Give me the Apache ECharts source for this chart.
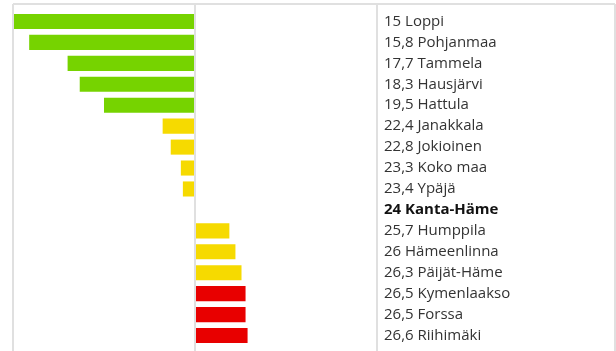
<!DOCTYPE html>
<html>
<head>
<meta charset="utf-8">
<style>
  html, body { margin: 0; padding: 0; background: #fff; }
  #chart { width: 616px; height: 351px; }
</style>
<script src="https://cdn.jsdelivr.net/npm/echarts@6/dist/echarts.min.js"></script>
</head>
<body>
<div id="chart"></div>
<script>
// Areas, ordered from lowest to highest value
const areas = ['Loppi', 'Pohjanmaa', 'Tammela', 'Hausjärvi', 'Hattula', 'Janakkala',
  'Jokioinen', 'Koko maa', 'Ypäjä', 'Kanta-Häme', 'Humppila', 'Hämeenlinna',
  'Päijät-Häme', 'Kymenlaakso', 'Forssa', 'Riihimäki'];
const values = [15, 15.8, 17.7, 18.3, 19.5, 22.4, 22.8, 23.3, 23.4, 24, 25.7, 26, 26.3, 26.5, 26.5, 26.6];
// Colour class of each row
const levels = ['low', 'low', 'low', 'low', 'low', 'mid', 'mid', 'mid', 'mid', 'mid', 'mid', 'mid', 'mid', 'high', 'high', 'high'];
// Reference area: bars grow out from its value
const referenceArea = 'Kanta-Häme';
const referenceValue = 24;
const axisMin = 15;
const axisMax = 33;

const levelColors = { low: '#76d300', mid: '#f6da00', high: '#e80000' };
const fmt = v => String(v).replace('.', ',');
const lineColor = '#e0e0e0';

const chart = echarts.init(document.getElementById('chart'));
chart.setOption({
  animation: false,
  grid: { left: 13, right: 239, top: 11, bottom: 5 },
  xAxis: {
    type: 'value', min: axisMin, max: axisMax,
    axisLine: { show: false }, axisTick: { show: false },
    axisLabel: { show: false }, splitLine: { show: false }
  },
  yAxis: {
    type: 'category', inverse: true, position: 'right',
    data: areas,
    axisLine: { show: false },
    axisTick: { show: false },
    axisLabel: {
      margin: 7,
      align: 'left',
      formatter: (name, i) => {
        const txt = fmt(values[i]) + ' ' + name;
        return name === referenceArea ? '{b|' + txt + '}' : '{n|' + txt + '}';
      },
      rich: {
        n: { fontFamily: 'Open Sans', fontSize: 15, color: '#333' },
        b: { fontFamily: 'Open Sans', fontSize: 15, fontWeight: 'bold', color: '#111' }
      }
    }
  },
  // outer frame: top rule and right edge
  graphic: [
    { type: 'line', silent: true, shape: { x1: 13, y1: 4, x2: 615, y2: 4 }, style: { stroke: lineColor, lineWidth: 2 } },
    { type: 'line', silent: true, shape: { x1: 615, y1: 4, x2: 615, y2: 351 }, style: { stroke: lineColor, lineWidth: 2 } }
  ],
  series: [{
    type: 'custom',
    data: values.map((v, i) => [v, i]),
    renderItem: (params, api) => {
      const v = api.value(0);
      const idx = api.value(1);
      const a = api.coord([referenceValue, idx]);
      const b = api.coord([v, idx]);
      const h = api.size([0, 1])[1] * 0.72;
      return {
        type: 'rect',
        shape: { x: Math.min(a[0], b[0]), y: a[1] - h / 2, width: Math.abs(b[0] - a[0]), height: h },
        style: { fill: levelColors[levels[params.dataIndex]] }
      };
    },
    markLine: {
      silent: true, symbol: 'none', label: { show: false },
      lineStyle: { color: lineColor, width: 2, type: 'solid' },
      data: [axisMin, referenceValue, axisMax].map(x => [{ coord: [x, 0], y: 4 }, { coord: [x, 0], y: 351 }])
    }
  }]
});
</script>
</body>
</html>
